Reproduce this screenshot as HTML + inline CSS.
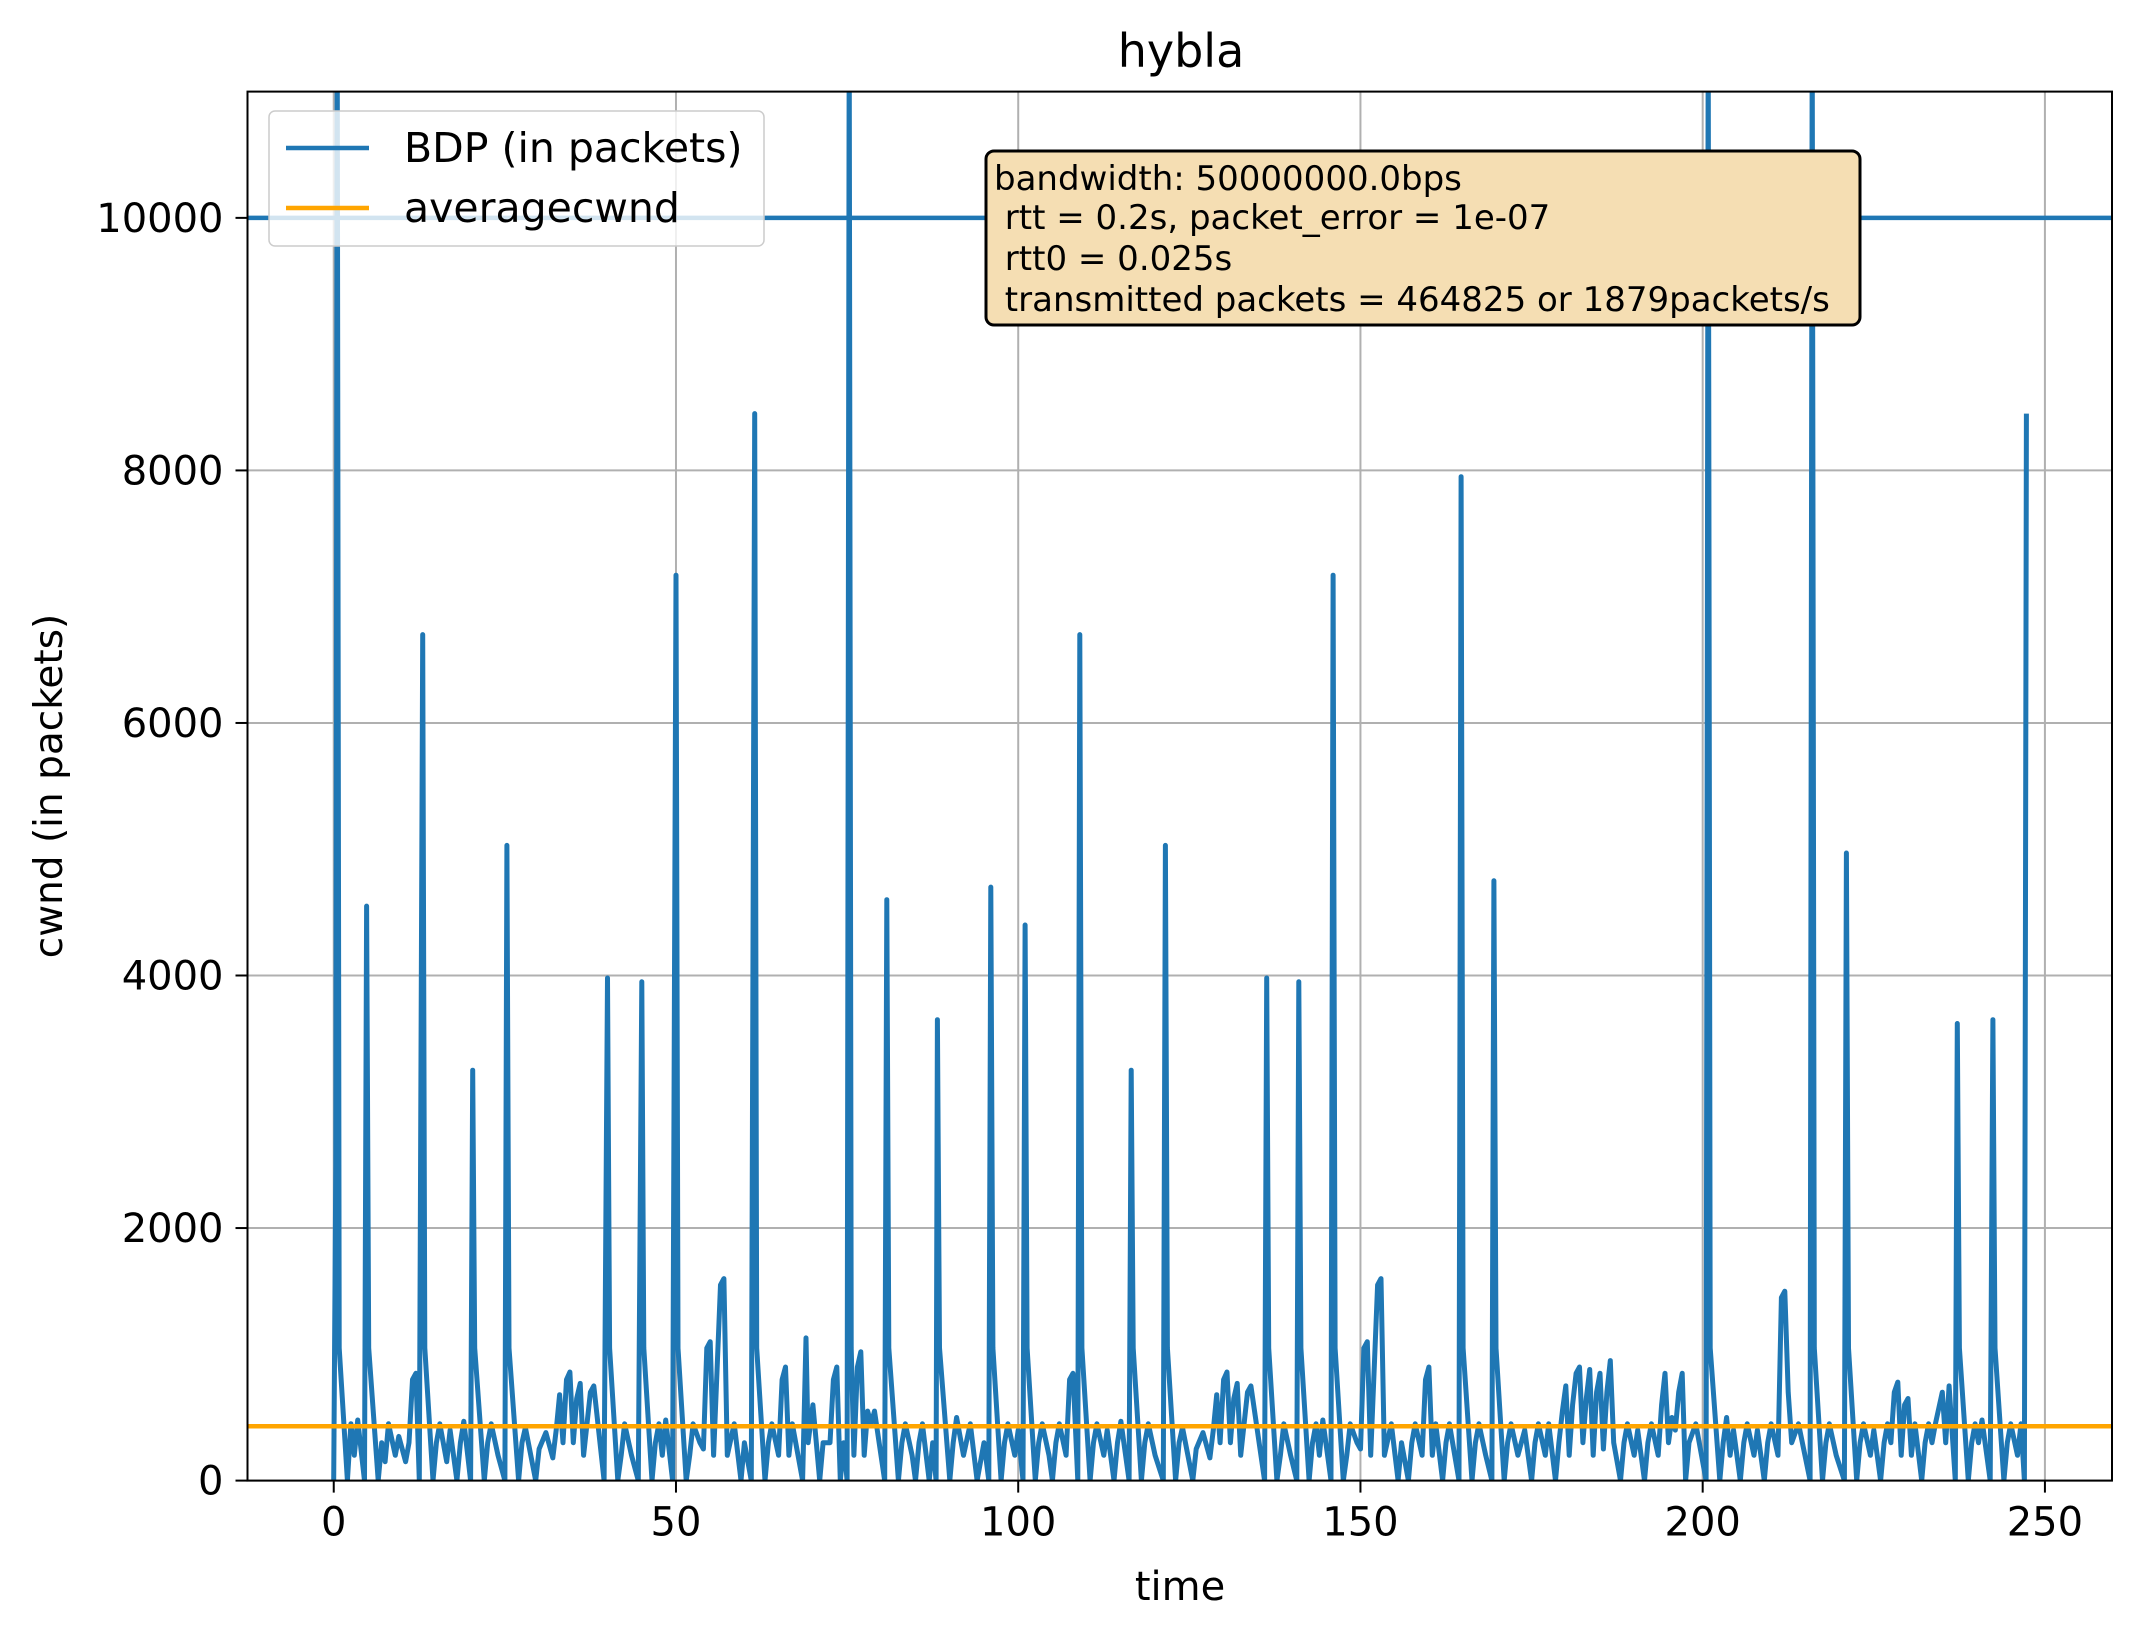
<!DOCTYPE html>
<html><head><meta charset="utf-8"><style>
html,body{margin:0;padding:0;background:#fff}
svg{display:block;font-family:"DejaVu Sans","Liberation Sans",sans-serif}
</style></head><body>
<svg id="chart" width="2138" height="1634" viewBox="0 0 2138 1634" xmlns="http://www.w3.org/2000/svg">
<defs><clipPath id="plotclip"><rect x="247.5" y="91.6" width="1864.5" height="1389"/></clipPath></defs>
<rect width="2138" height="1634" fill="#fff"/>
<g id="grid"></g>
<g id="series" clip-path="url(#plotclip)"></g>
<rect x="247.5" y="91.6" width="1864.5" height="1389" fill="none" stroke="#000" stroke-width="2"/>
<g id="ticks"></g>
<text x="1181" y="67" font-size="46" text-anchor="middle">hybla</text>
<text x="1180" y="1600" font-size="40" text-anchor="middle">time</text>
<text x="0" y="0" font-size="39" text-anchor="middle" transform="translate(62,786) rotate(-90)">cwnd (in packets)</text>
<g>
<rect x="269" y="111" width="495" height="135" rx="6" fill="#fff" fill-opacity="0.8" stroke="#ccc" stroke-width="1.5"/>
<line x1="286" y1="148" x2="369" y2="148" stroke="#1f77b4" stroke-width="4.5"/>
<text x="404" y="162" font-size="41">BDP (in packets)</text>
<line x1="286" y1="208" x2="369" y2="208" stroke="#ffa500" stroke-width="4.5"/>
<text x="404" y="222" font-size="41">averagecwnd</text>
</g>
<g>
<rect x="986" y="151" width="874" height="174" rx="8" fill="#f5deb3" stroke="#000" stroke-width="3"/>
<text x="994" y="190" font-size="34" xml:space="preserve">bandwidth: 50000000.0bps</text>
<text x="994" y="229" font-size="34" xml:space="preserve"> rtt = 0.2s, packet_error = 1e-07</text>
<text x="994" y="270" font-size="34" xml:space="preserve"> rtt0 = 0.025s</text>
<text x="994" y="311" font-size="34" xml:space="preserve"> transmitted packets = 464825 or 1879packets/s</text>
</g>
</svg>
<script>
const xTicks=[0,50,100,150,200,250];
const yTicks=[0,2000,4000,6000,8000,10000];
const bdpValue=[10000];
const averageCwnd=[430];
const times=[0,0.3,0.5,0.8,2,2.5,3,3.5,4.5,4.8,5.1,6.5,7,7.5,8,9,9.5,10.5,11,11.5,12,12.5,13,13.3,14.5,15,15.5,16.5,17,18,18.5,19,20,20.3,20.6,22,22.5,23,24,25,25.3,25.6,27,27.5,28,29.5,30,31,32,32.5,33,33.5,34,34.5,35,35.5,36,36.5,37.5,38,39.5,40,40.3,41.5,42,42.5,43.5,44.5,45,45.3,46.5,47,47.5,48,48.5,49.5,50,50.3,51.5,52,52.5,53.5,54,54.5,55,55.5,56.5,57,57.5,58.5,59.5,60,61,61.5,61.8,63,63.5,64,65,65.5,66,66.5,67,68.5,69,69.3,70,71,71.5,72.5,73,73.5,74,74.5,75,75.3,75.6,76,76.5,77,77.5,78,78.5,79,80.5,80.8,81.1,82.5,83,83.5,84.5,85,85.5,86,87,87.5,88,88.2,88.5,90,90.5,91,92,93,94,95,95.7,96,96.3,97.5,98,98.5,99.5,100,100.7,101,101.3,102.5,103,103.5,104.5,105,105.5,106,107,107.5,108,108.7,109,109.3,110.5,111,111.5,112.5,113,114,114.5,115,116.2,116.5,116.8,118,118.5,119,120,121.2,121.5,121.8,123,123.5,124,125.5,126,127,128,128.5,129,129.5,130,130.5,131,131.5,132,132.5,133.5,134,136,136.3,136.6,137.8,138.3,138.8,139.8,140.7,141,141.3,142.5,143,143.5,144,144.5,145.7,146,146.3,147.5,148,148.5,149.5,150,150.5,151,151.5,152.5,153,153.5,154.5,155.5,156,157,157.5,158,159,159.5,160,160.5,161,162,162.5,163,164.4,164.7,165,166.3,166.8,167.3,168.3,169.2,169.5,169.8,171,171.5,172,173,174,175,175.5,176,177,177.5,178.5,179,179.5,180,180.5,181,181.5,182,182.5,183,183.5,184,184.5,185,185.5,186,186.5,187,188,188.5,189,190,190.5,191.5,192,192.5,193.5,194,194.5,195,195.5,196,196.5,197,197.5,198,199,200.5,200.8,201.1,202.5,203,203.5,204,204.5,205.5,206,206.5,207.5,208,209,209.5,210,211,211.5,212,212.5,213,214,215.7,216,216.3,217.5,218,218.5,219.5,220.7,221,221.3,222.5,223,223.5,224.5,225,226,226.5,227,227.5,228,228.5,229,229.5,230,230.5,231,232,232.5,233,233.5,234,235,235.5,236,236.9,237.2,237.5,238.8,239.3,239.8,240.3,240.8,242,242.4,242.7,244,244.5,245,246,246.5,247,247.3];
const cwnd=[0,2500,11500,1050,0,450,200,480,0,4550,1050,0,300,150,450,200,350,150,300,800,850,0,6700,1050,0,300,450,150,400,0,300,470,0,3250,1050,0,300,450,200,0,5030,1050,0,300,420,0,250,380,180,400,680,300,800,860,300,650,770,200,700,750,0,3980,1050,0,200,450,200,0,3950,1050,0,300,450,200,480,0,7170,1050,0,200,450,300,250,1050,1100,200,1550,1600,200,450,0,300,0,8450,1050,0,300,450,200,800,900,200,450,0,1130,300,600,0,300,300,800,900,0,300,0,11500,1050,200,900,1020,200,550,450,550,0,4600,1050,0,300,450,200,0,300,450,0,300,0,3650,1050,0,300,500,200,450,0,300,0,4700,1050,0,300,450,200,400,0,4400,1050,0,300,450,200,0,300,450,200,800,850,0,6700,1050,0,300,450,200,400,0,300,470,0,3250,1050,0,300,450,200,0,5030,1050,0,300,420,0,250,380,180,400,680,300,800,860,300,650,770,200,700,750,0,3980,1050,0,200,450,200,0,3950,1050,0,300,450,200,480,0,7170,1050,0,200,450,300,250,1050,1100,200,1550,1600,200,450,0,300,0,300,450,200,800,900,200,450,0,300,450,0,7950,1050,0,300,450,200,0,4750,1050,0,300,450,200,400,0,300,450,200,450,0,300,550,750,200,600,850,900,300,650,880,200,700,850,250,700,950,300,0,300,450,200,400,0,300,450,200,600,850,300,500,400,700,850,0,300,450,0,11500,1050,0,300,500,200,400,0,300,450,200,400,0,300,450,200,1450,1500,700,300,450,0,11500,1050,0,300,450,200,0,4970,1050,0,300,450,200,400,0,300,450,300,700,780,200,600,650,200,450,0,300,450,300,450,700,300,750,0,3620,1050,0,300,450,300,480,0,3650,1050,0,300,450,200,450,0,8450];
const NS='http://www.w3.org/2000/svg';
const L=247.5,R=2112,T=91.6,B=1480.6;
const xmin=-12.6,xmax=259.8,ymin=0,ymax=11000;
function xs(v){return L+(v-xmin)/(xmax-xmin)*(R-L);}
function ys(v){return B-(v-ymin)/(ymax-ymin)*(B-T);}
function mk(tag,attrs,parent){const e=document.createElementNS(NS,tag);for(const k in attrs)e.setAttribute(k,attrs[k]);parent.appendChild(e);return e;}
const grid=document.getElementById('grid'),ticks=document.getElementById('ticks'),series=document.getElementById('series');
xTicks.forEach(t=>{
  const g=mk('line',{x1:xs(t),x2:xs(t),y1:T,y2:B,stroke:'#b0b0b0','stroke-width':2},grid);
  
  
  const tk=mk('line',{x1:xs(t),x2:xs(t),y1:B,y2:B+12,stroke:'#000','stroke-width':2},ticks);
  
  
  const tx=mk('text',{x:xs(t),y:B+55,'font-size':40,'text-anchor':'middle'},ticks);
  
  
  tx.textContent=t;
});
yTicks.forEach(t=>{
  const g=mk('line',{x1:L,x2:R,y1:ys(t),y2:ys(t),stroke:'#b0b0b0','stroke-width':2},grid);
  
  
  const tk=mk('line',{x1:L-12,x2:L,y1:ys(t),y2:ys(t),stroke:'#000','stroke-width':2},ticks);
  
  
  const tx=mk('text',{x:L-24,y:ys(t)+14,'font-size':40,'text-anchor':'end'},ticks);
  
  
  tx.textContent=t;
});
let d='';
times.forEach((t,i)=>{d+=(i?'L':'M')+xs(t).toFixed(1)+','+ys(cwnd[i]).toFixed(1);});
const p=mk('path',{d:d,fill:'none',stroke:'#1f77b4','stroke-width':5,'stroke-linejoin':'round'},series);


const bl=mk('line',{x1:L,x2:R,y1:ys(bdpValue[0]),y2:ys(bdpValue[0]),stroke:'#1f77b4','stroke-width':4.5},series);


const al=mk('line',{x1:L,x2:R,y1:ys(averageCwnd[0]),y2:ys(averageCwnd[0]),stroke:'#ffa500','stroke-width':4.5},series);


</script>
</body></html>
